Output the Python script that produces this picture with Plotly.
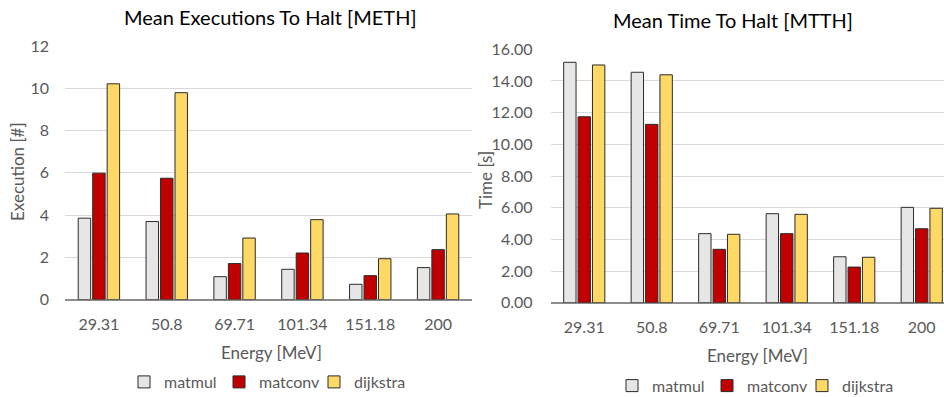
import plotly.graph_objects as go

# Beam energies (MeV) used as categories on both panels
energies = ["29.31", "50.8", "69.71", "101.34", "151.18", "200"]

# Mean executions to halt (METH)
meth_matmul = [3.85, 3.69, 1.08, 1.43, 0.72, 1.51]
meth_matconv = [5.98, 5.74, 1.70, 2.20, 1.13, 2.36]
meth_dijkstra = [10.21, 9.79, 2.91, 3.78, 1.93, 4.05]

# Mean time to halt (MTTH), seconds
mtth_matmul = [15.18, 14.55, 4.36, 5.62, 2.90, 6.02]
mtth_matconv = [11.74, 11.26, 3.37, 4.36, 2.25, 4.67]
mtth_dijkstra = [15.01, 14.39, 4.32, 5.58, 2.87, 5.96]

W, H = 944, 397
FONT = "Lato"
GREY_TXT = "#595959"
COLORS = {"matmul": "#E7E6E6", "matconv": "#C00000", "dijkstra": "#FFD966"}


def px_x(x):
    return x / W


def px_y(y):
    return (H - y) / H


fig = go.Figure()

series_left = [("matmul", meth_matmul), ("matconv", meth_matconv), ("dijkstra", meth_dijkstra)]
series_right = [("matmul", mtth_matmul), ("matconv", mtth_matconv), ("dijkstra", mtth_dijkstra)]

for name, vals in series_left:
    fig.add_trace(go.Bar(
        x=energies, y=vals, name=name, xaxis="x", yaxis="y", legend="legend",
        marker=dict(color=COLORS[name], line=dict(color="#2b2b2b", width=1)),
    ))
for name, vals in series_right:
    fig.add_trace(go.Bar(
        x=energies, y=vals, name=name, xaxis="x2", yaxis="y2", legend="legend2",
        marker=dict(color=COLORS[name], line=dict(color="#2b2b2b", width=1)),
    ))

tick_font = dict(family=FONT, size=16, color=GREY_TXT)
axis_common = dict(showgrid=True, gridcolor="#D9D9D9", gridwidth=1,
                   zeroline=True, zerolinecolor="#8C8C8C", zerolinewidth=2,
                   showline=False, ticks="", tickfont=tick_font)
xaxis_common = dict(type="category", showgrid=False, zeroline=False, showline=False,
                    ticks="", tickfont=tick_font, ticklabelstandoff=13)

legend_font = dict(family=FONT, size=16, color=GREY_TXT)

fig.update_layout(
    width=W, height=H,
    margin=dict(l=0, r=0, t=0, b=0, autoexpand=False),
    paper_bgcolor="white", plot_bgcolor="white",
    barmode="group", bargap=0.36, bargroupgap=0.14,
    font=dict(family=FONT, color=GREY_TXT),
    xaxis=dict(domain=[px_x(65), px_x(472)], anchor="y", range=[-0.5, 5.5], **xaxis_common),
    yaxis=dict(domain=[px_y(299.5), px_y(46)], anchor="x", range=[0, 12], dtick=2,
               ticklabelstandoff=15, **axis_common),
    xaxis2=dict(domain=[px_x(550.5), 1.0], anchor="y2", range=[-0.5, 5.33], **xaxis_common),
    yaxis2=dict(domain=[px_y(302.7), px_y(49.3)], anchor="x2", range=[0, 16], dtick=2,
                tickformat=".2f", ticklabelstandoff=17, **axis_common),
    legend=dict(orientation="h", x=px_x(124), y=px_y(382), xanchor="left", yanchor="middle",
                entrywidth=50, font=legend_font, bgcolor="rgba(0,0,0,0)"),
    legend2=dict(orientation="h", x=px_x(612), y=px_y(385.7), xanchor="left", yanchor="middle",
                 entrywidth=50, font=legend_font, bgcolor="rgba(0,0,0,0)"),
)

title_font = dict(family=FONT, size=20, color="#000000")
label_font = dict(family=FONT, size=17, color=GREY_TXT)
annotations = [
    dict(text="Mean Executions To Halt [METH]", x=px_x(270), y=px_y(17), font=title_font),
    dict(text="Mean Time To Halt [MTTH]", x=px_x(732.5), y=px_y(20), font=title_font),
    dict(text="Energy [MeV]", x=px_x(271), y=px_y(352), font=label_font),
    dict(text="Energy [MeV]", x=px_x(757.5), y=px_y(355), font=label_font),
    dict(text="Execution [#]", x=px_x(17), y=px_y(172), font=label_font, textangle=-90),
    dict(text="Time [s]", x=px_x(485), y=px_y(180), font=label_font, textangle=-90),
]
for a in annotations:
    fig.add_annotation(xref="paper", yref="paper", xanchor="center", yanchor="middle",
                       showarrow=False, **a)

fig.write_html("out.html")
